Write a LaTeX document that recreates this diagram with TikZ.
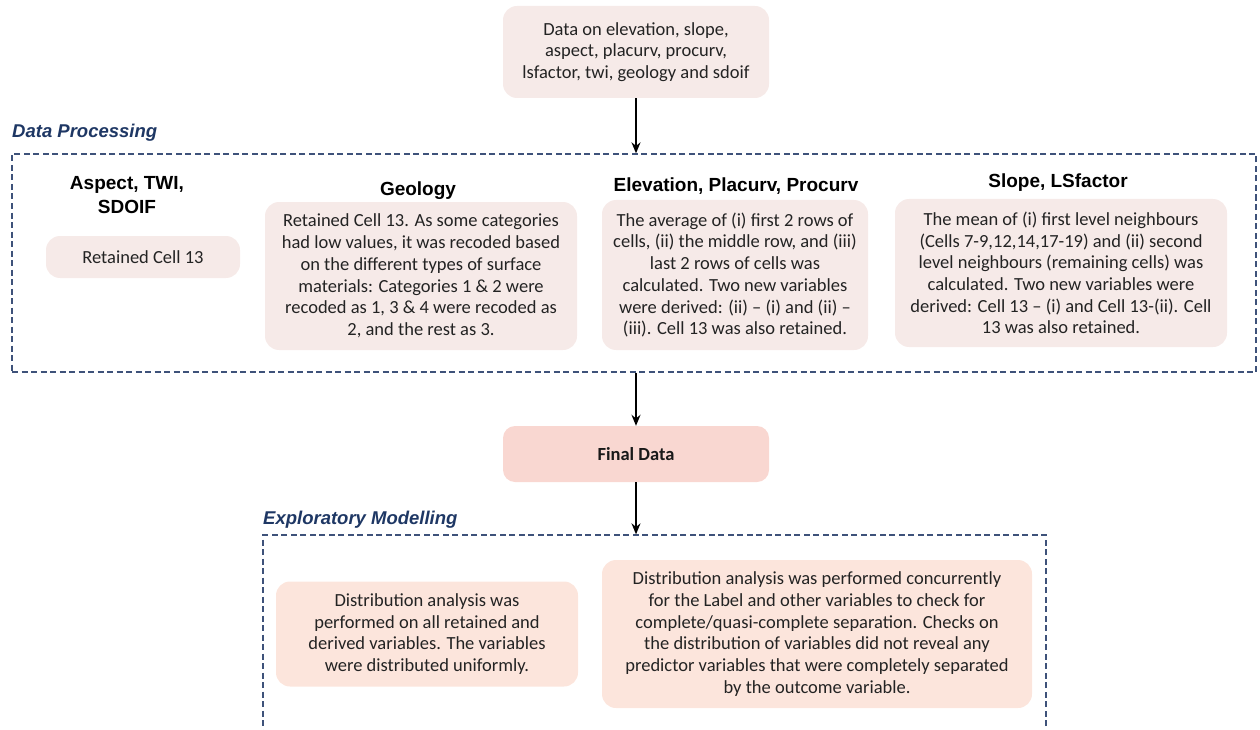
\documentclass[tikz,border=0pt]{standalone}
\usepackage{fontspec}
\setmainfont{Carlito}
\newfontfamily\arialf{Liberation Sans}
\usetikzlibrary{arrows.meta}
\definecolor{boxA}{RGB}{246,234,232}
\definecolor{boxF}{RGB}{249,215,209}
\definecolor{boxE}{RGB}{252,229,220}
\definecolor{navy}{RGB}{62,82,122}
\definecolor{lbl}{RGB}{30,55,100}
\definecolor{ink}{RGB}{35,35,35}
\begin{document}
\begin{tikzpicture}[x=1pt,y=-1pt,
  txt/.style={font=\fontsize{18.5}{21.7}\selectfont, align=center, text=ink},
  pbox/.style={txt, fill=boxA, rounded corners=14pt, inner sep=0pt},
  ebox/.style={txt, fill=boxE, rounded corners=14pt, inner sep=0pt},
  hdr/.style={font=\arialf\bfseries\fontsize{19}{23.5}\selectfont, align=center, text=black, inner sep=0pt},
  dbox/.style={draw=navy, line width=1.3pt, dash pattern=on 6pt off 3.5pt, inner sep=0pt},
  sect/.style={font=\arialf\bfseries\itshape\fontsize{18.5}{22}\selectfont, text=lbl, anchor=west, inner sep=0pt},
  arr/.style={-{Stealth[length=11pt,width=9pt]}, line width=1.6pt}
]
\useasboundingbox (0,0) rectangle (1260,730);
\clip (0,0) rectangle (1260,730);

% top
\node[pbox, minimum width=266pt, minimum height=92pt] (top) at (636,52)
  {Data on elevation, slope,\\aspect, placurv, procurv,\\lsfactor, twi, geology and sdoif};

% data processing
\node[sect] (dplbl) at (12,133) {Data Processing};
\node[dbox, minimum width=1244pt, minimum height=218pt] (dp) at (634,263) {};

\node[hdr] (h1) at (127,195) {Aspect, TWI,\\SDOIF};
\node[hdr] (h2) at (418,191) {Geology};
\node[hdr] (h3) at (736,186) {Elevation, Placurv, Procurv};
\node[hdr] (h4) at (1058,183) {Slope, LSfactor};

\node[pbox, minimum width=194pt, minimum height=42pt] (b1) at (143,257) {Retained Cell 13};
\node[pbox, minimum width=312pt, minimum height=148pt] (b2) at (421,276)
  {Retained Cell 13. As some categories\\had low values, it was recoded based\\on the different types of surface\\materials: Categories 1 \& 2 were\\recoded as 1, 3 \& 4 were recoded as\\2, and the rest as 3.};
\node[pbox, minimum width=266pt, minimum height=150pt] (b3) at (735,275)
  {The average of (i) first 2 rows of\\cells, (ii) the middle row, and (iii)\\last 2 rows of cells was\\calculated. Two new variables\\were derived: (ii) -- (i) and (ii) --\\(iii). Cell 13 was also retained.};
\node[pbox, minimum width=332pt, minimum height=148pt] (b4) at (1061,273)
  {The mean of (i) first level neighbours\\(Cells 7-9,12,14,17-19) and (ii) second\\level neighbours (remaining cells) was\\calculated. Two new variables were\\derived: Cell 13 -- (i) and Cell 13-(ii). Cell\\13 was also retained.};

% final data
\node[txt, fill=boxF, rounded corners=12pt, inner sep=0pt, minimum width=266pt, minimum height=56pt, font=\bfseries\fontsize{18.5}{21.7}\selectfont, text=black!90] (final) at (636,454) {Final Data};

% exploratory modelling
\node[sect] (emlbl) at (263,520) {Exploratory Modelling};
\node[dbox, minimum width=783pt, minimum height=225pt] (em) at (654.5,647.5) {};

\node[ebox, minimum width=302pt, minimum height=105pt] (c1) at (427,634)
  {Distribution analysis was\\performed on all retained and\\derived variables. The variables\\were distributed uniformly.};
\node[ebox, minimum width=430pt, minimum height=148pt] (c2) at (817,634)
  {Distribution analysis was performed concurrently\\for the Label and other variables to check for\\complete/quasi-complete separation. Checks on\\the distribution of variables did not reveal any\\predictor variables that were completely separated\\by the outcome variable.};

% arrows
\draw[arr] (top.south) -- (top.south |- dp.north);
\draw[arr] (top.south |- dp.south) -- (final.north);
\draw[arr] (final.south) -- (final.south |- em.north);
\end{tikzpicture}
\end{document}
